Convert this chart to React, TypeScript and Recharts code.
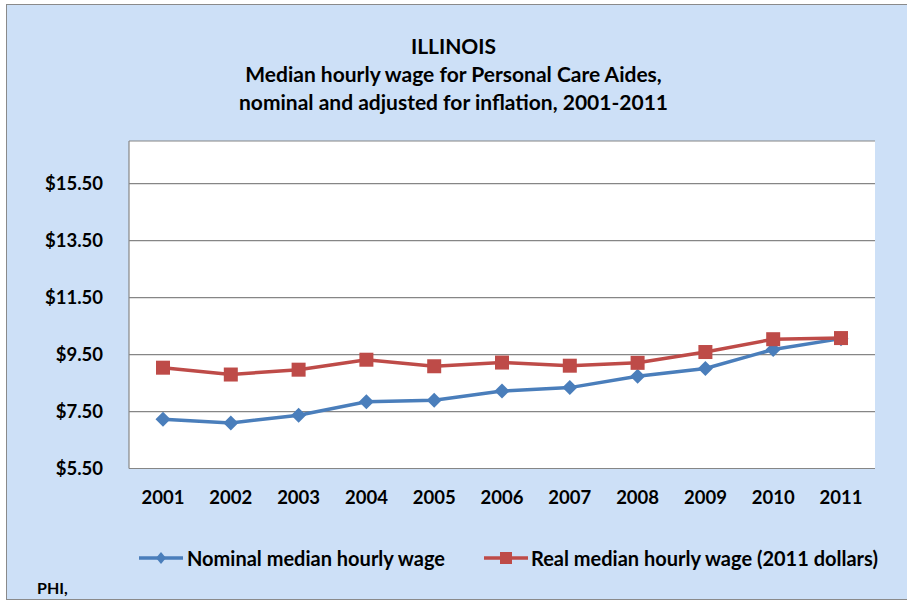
import React from 'react';
import { LineChart, Line, XAxis, YAxis, CartesianGrid, Legend } from 'recharts';

const years = ['2001', '2002', '2003', '2004', '2005', '2006', '2007', '2008', '2009', '2010', '2011'];
const nominalWage = [7.23, 7.10, 7.37, 7.84, 7.90, 8.22, 8.34, 8.74, 9.01, 9.68, 10.06];
const realWage = [9.04, 8.80, 8.97, 9.32, 9.09, 9.22, 9.11, 9.21, 9.59, 10.04, 10.08];
const yTicks = [5.5, 7.5, 9.5, 11.5, 13.5, 15.5];
const titleLines = ['ILLINOIS', 'Median hourly wage for Personal Care Aides,', 'nominal and adjusted for inflation, 2001-2011'];
const seriesNames = ['Nominal median hourly wage', 'Real median hourly wage (2011 dollars)'];
const sourceNote = 'PHI,';

const data = years.map((y, i) => ({ year: y, nominal: nominalWage[i], real: realWage[i] }));

const BLUE = '#4A7EBB';
const RED = '#BE4B48';
const GRID = '#868686';
const BG = '#CDE0F7';
const FONT = 'Lato, "Open Sans", sans-serif';

const Diamond = (props: any) => {
  const { cx, cy } = props;
  if (cx == null || cy == null) return null;
  const r = 7.5;
  return <path d={`M${cx},${cy - r} L${cx + r},${cy} L${cx},${cy + r} L${cx - r},${cy} Z`} fill={BLUE} stroke="none" />;
};

const Square = (props: any) => {
  const { cx, cy } = props;
  if (cx == null || cy == null) return null;
  const s = 14;
  return <rect x={cx - s / 2} y={cy - s / 2} width={s} height={s} fill={RED} stroke="none" />;
};

const LegendContent = () => (
  <div style={{ display: 'flex', alignItems: 'center', paddingLeft: 139, fontFamily: FONT, fontWeight: 700, fontSize: 20, color: '#000', whiteSpace: 'nowrap' }}>
    <svg width={46} height={20} style={{ display: 'block' }}>
      <line x1={0} y1={10} x2={44} y2={10} stroke={BLUE} strokeWidth={3.5} />
      <path d="M22,4 L27,10 L22,16 L17,10 Z" fill={BLUE} />
    </svg>
    <span style={{ marginLeft: 2 }}>{seriesNames[0]}</span>
    <svg width={46} height={20} style={{ display: 'block', marginLeft: 39 }}>
      <line x1={0} y1={10} x2={44} y2={10} stroke={RED} strokeWidth={3.5} />
      <rect x={16} y={4} width={12} height={12} fill={RED} />
    </svg>
    <span style={{ marginLeft: 1 }}>{seriesNames[1]}</span>
  </div>
);

export default function App() {
  return (
    <div style={{ position: 'relative', width: 907, height: 601, background: '#fff', overflow: 'hidden' }}>
      <style>{`body{margin:0;}`}</style>
      <div style={{ position: 'absolute', left: 6, top: 4, width: 910, height: 594, background: BG, border: '1.5px solid #8a8a8a' }} />
      <div style={{ position: 'absolute', left: 0, top: 32, width: 907, textAlign: 'center', fontFamily: FONT, fontWeight: 700, fontSize: 21, lineHeight: '28px', color: '#000' }}>
        {titleLines.map((t) => (
          <div key={t}>{t}</div>
        ))}
      </div>
      <div style={{ position: 'absolute', left: 37, top: 578, fontFamily: FONT, fontWeight: 700, fontSize: 16, color: '#000' }}>{sourceNote}</div>
      <div style={{ position: 'absolute', left: 0, top: 0 }}>
        <LineChart width={907} height={601} data={data} margin={{ top: 141, right: 32, left: 0, bottom: 72.5 }}>
          <CartesianGrid horizontal vertical={false} stroke={GRID} strokeWidth={1.2} fill="#ffffff" />
          <XAxis
            dataKey="year"
            height={60}
            padding={{ left: 34, right: 34 }}
            axisLine={{ stroke: GRID, strokeWidth: 1.2 }}
            tickLine={false}
            tickSize={6}
            tickMargin={16}
            tick={{ fill: '#000', fontFamily: FONT, fontWeight: 700, fontSize: 18.5 }}
            interval={0}
          />
          <YAxis
            width={129}
            domain={[5.5, 17]}
            ticks={yTicks}
            allowDataOverflow
            axisLine={{ stroke: GRID, strokeWidth: 1.2 }}
            tickLine={false}
            tickSize={6}
            tickMargin={20}
            tickFormatter={(v: number) => '$' + v.toFixed(2)}
            tick={{ fill: '#000', fontFamily: FONT, fontWeight: 700, fontSize: 18.5 }}
          />
          <Line
            type="linear"
            dataKey="nominal"
            name={seriesNames[0]}
            stroke={BLUE}
            strokeWidth={3.5}
            dot={<Diamond />}
            activeDot={false}
            isAnimationActive={false}
          />
          <Line
            type="linear"
            dataKey="real"
            name={seriesNames[1]}
            stroke={RED}
            strokeWidth={3.5}
            dot={<Square />}
            activeDot={false}
            isAnimationActive={false}
          />
          <Legend
            layout="horizontal"
            verticalAlign="middle"
            align="center"
            content={<LegendContent />}
            wrapperStyle={{ position: 'absolute', top: 546, left: 0, width: 907, height: 24 }}
          />
        </LineChart>
      </div>
    </div>
  );
}
